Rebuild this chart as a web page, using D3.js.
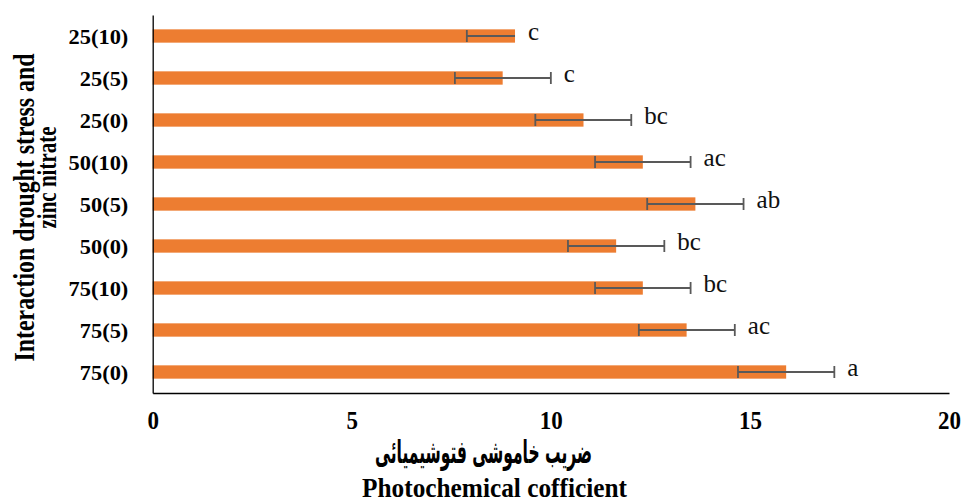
<!DOCTYPE html>
<html>
<head>
<meta charset="utf-8">
<script src="https://cdn.jsdelivr.net/npm/d3@7/dist/d3.min.js"></script>
<style>
  html, body { margin: 0; padding: 0; background: #fff; }
  svg { display: block; }
</style>
</head>
<body>
<svg id="chart" width="962" height="502"></svg>
<script>
// Treatments, listed from the bottom bar to the top bar
const categories = ["75(0)", "75(5)", "75(10)", "50(0)", "50(5)", "50(10)", "25(0)", "25(5)", "25(10)"];
// Mean photochemical coefficient per treatment
const values = [15.91, 13.41, 12.31, 11.64, 13.63, 12.31, 10.82, 8.79, 9.10];
// Error bar extents below and above each mean
const errMinus = [1.21, 1.20, 1.20, 1.21, 1.21, 1.20, 1.21, 1.20, 1.21];
const errPlus  = [1.21, 1.21, 1.20, 1.21, 1.21, 1.20, 1.20, 1.21, 0];
// Mean comparison letters
const letters = ["a", "ac", "bc", "bc", "ab", "ac", "bc", "c", "c"];
const xTicks = [0, 5, 10, 15, 20];

const rows = categories.map((c, i) => ({
  cat: c, v: values[i], lo: errMinus[i], hi: errPlus[i], letter: letters[i]
}));

const svg = d3.select("#chart");
const plotLeft = 152.7, plotRight = 949, plotTop = 15, plotBottom = 393;

const x = d3.scaleLinear().domain([0, 20]).range([plotLeft, plotRight]);
const y = d3.scaleBand().domain(categories).range([plotBottom, plotTop])
  .paddingInner(0.683).paddingOuter(0.3415);

const serif = "'Liberation Serif', 'Times New Roman', serif";

// Bars
svg.append("g").selectAll("rect").data(rows).join("rect")
  .attr("x", x(0))
  .attr("y", d => y(d.cat))
  .attr("width", d => x(d.v) - x(0))
  .attr("height", y.bandwidth())
  .attr("fill", "#ED7D31");

// Error bars
const eb = svg.append("g").attr("stroke", "#595959").attr("stroke-width", 1.8).attr("fill", "none");
rows.forEach(d => {
  const cy = y(d.cat) + y.bandwidth() / 2;
  const x0 = x(d.v - d.lo), x1 = x(d.v + d.hi);
  eb.append("line").attr("x1", x0).attr("x2", x1).attr("y1", cy).attr("y2", cy);
  if (d.lo > 0) eb.append("line").attr("x1", x0).attr("x2", x0).attr("y1", cy - 6).attr("y2", cy + 6);
  if (d.hi > 0) eb.append("line").attr("x1", x1).attr("x2", x1).attr("y1", cy - 6).attr("y2", cy + 6);
});

// Letters beside the bars
svg.append("g").selectAll("text").data(rows).join("text")
  .attr("x", d => x(d.v + d.hi) + 13)
  .attr("y", d => y(d.cat) + y.bandwidth() / 2 + 4)
  .attr("font-family", serif)
  .attr("font-size", 25)
  .attr("fill", "#111")
  .text(d => d.letter);

// Bottom axis
const gx = svg.append("g").attr("transform", `translate(0,${plotBottom})`)
  .call(d3.axisBottom(x).tickValues(xTicks).tickSize(0).tickSizeOuter(0));
gx.select(".domain").attr("stroke", "#000").attr("stroke-width", 1.3);
gx.selectAll(".tick text")
  .attr("y", 0).attr("dy", null)
  .attr("transform", "translate(0,36.3) scale(1,1.1)")
  .attr("font-family", serif).attr("font-weight", "bold").attr("font-size", 23)
  .attr("fill", "#000");

// Left axis
const gy = svg.append("g").attr("transform", `translate(${plotLeft},0)`)
  .call(d3.axisLeft(y).tickSize(0).tickSizeOuter(0));
gy.select(".domain").attr("stroke", "#000").attr("stroke-width", 1.3);
gy.selectAll(".tick text")
  .attr("x", 0).attr("y", 0).attr("dy", null)
  .attr("transform", "translate(-24.4,8) scale(1.12,1)")
  .attr("font-family", serif).attr("font-weight", "bold").attr("font-size", 20)
  .attr("fill", "#000");

// Stretch a text node along its reading direction to a given length
function fitText(sel, len, place) {
  const w = sel.node().getComputedTextLength();
  sel.attr("transform", `${place} scale(${len / w},1)`);
}

// Axis titles
const tA = svg.append("text").attr("text-anchor", "middle")
  .attr("font-family", "'DejaVu Sans', sans-serif").attr("font-weight", "bold")
  .attr("font-size", 32).attr("fill", "#000")
  .attr("direction", "rtl")
  .text("ضریب خاموشی فتوشیمیائی");
fitText(tA, 217, "translate(483.5,463)");

const tE = svg.append("text").attr("text-anchor", "middle")
  .attr("font-family", serif).attr("font-weight", "bold")
  .attr("font-size", 28).attr("fill", "#000")
  .text("Photochemical cofficient");
fitText(tE, 265, "translate(494.5,497)");

const ty1 = svg.append("text").attr("text-anchor", "middle")
  .attr("font-family", serif).attr("font-weight", "bold")
  .attr("font-size", 29).attr("fill", "#000")
  .text("Interaction drought stress and");
fitText(ty1, 308, "translate(33.5,207.5) rotate(-90)");

const ty2 = svg.append("text").attr("text-anchor", "middle")
  .attr("font-family", serif).attr("font-weight", "bold")
  .attr("font-size", 28).attr("fill", "#000")
  .text("zinc nitrate");
fitText(ty2, 102, "translate(56,177.5) rotate(-90)");
</script>
</body>
</html>
